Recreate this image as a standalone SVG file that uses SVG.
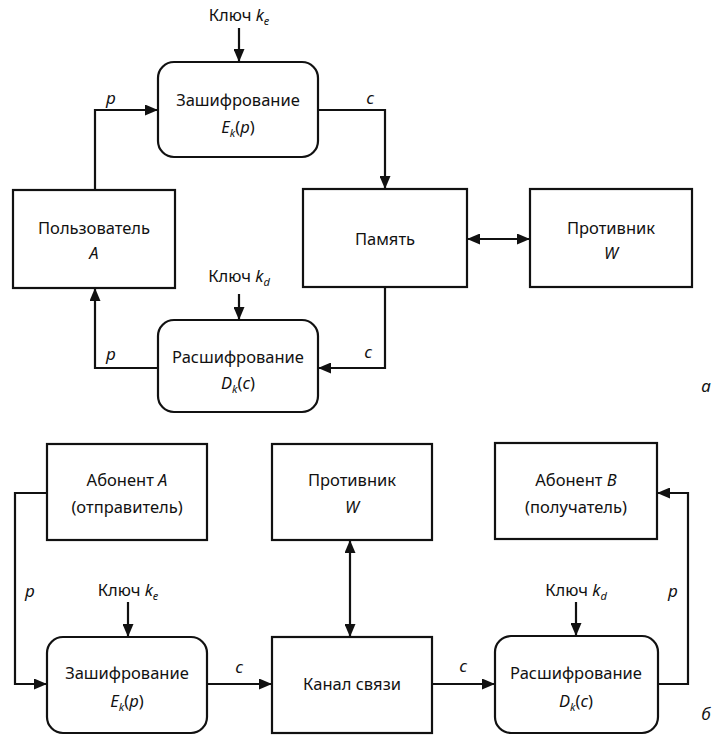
<svg xmlns="http://www.w3.org/2000/svg" width="721" height="740" viewBox="0 0 721 740">
  <style>
    .box { fill: #fff; stroke: #111; stroke-width: 2.2; }
    .wire { fill: none; stroke: #111; stroke-width: 2.2; }
    text { font-family: "Noto Sans", "Open Sans", sans-serif; font-size: 16.5px; fill: #111; text-anchor: middle; }
    .i { font-style: italic; }
    .sub { font-size: 11px; font-style: italic; }
    .lbl { font-style: italic; font-size: 17px; text-anchor: middle; }
    .tag { font-style: italic; font-size: 17px; }
  </style>
  <defs>
    <marker id="arrow" markerUnits="userSpaceOnUse" markerWidth="13" markerHeight="11" refX="13" refY="5.5" orient="auto-start-reverse">
      <path d="M0,0 L13,5.5 L0,11 z" fill="#111"/>
    </marker>
  </defs>

  <rect width="721" height="740" fill="#fff"/>

  <!-- upper scheme: storage -->
  <g id="user-a">
    <rect class="box" x="13" y="190" width="162" height="98"/>
    <text x="94" y="234">Пользователь</text>
    <text x="94" y="259" class="i">A</text>
  </g>
  <g id="encrypt-top">
    <rect class="box" x="158" y="62" width="160" height="95" rx="16"/>
    <text x="238" y="106">Зашифрование</text>
    <text x="238" y="133"><tspan class="i">E</tspan><tspan class="sub" dy="4">k</tspan><tspan dy="-4">(</tspan><tspan class="i">p</tspan>)</text>
  </g>
  <g id="key-e-top">
    <text x="239" y="21">Ключ <tspan class="i">k</tspan><tspan class="sub" dy="4">e</tspan></text>
  </g>
  <g id="memory">
    <rect class="box" x="303" y="189" width="164" height="98"/>
    <text x="385" y="245">Память</text>
  </g>
  <g id="adversary-top">
    <rect class="box" x="530" y="189" width="162" height="98"/>
    <text x="611" y="234">Противник</text>
    <text x="611" y="259" class="i">W</text>
  </g>
  <g id="key-d-top">
    <text x="239" y="282">Ключ <tspan class="i">k</tspan><tspan class="sub" dy="4">d</tspan></text>
  </g>
  <g id="decrypt-top">
    <rect class="box" x="158" y="320" width="160" height="92" rx="16"/>
    <text x="238" y="363">Расшифрование</text>
    <text x="238" y="389"><tspan class="i">D</tspan><tspan class="sub" dy="4">k</tspan><tspan dy="-4">(</tspan><tspan class="i">c</tspan>)</text>
  </g>

  <!-- lower scheme: channel -->
  <g id="subscriber-a">
    <rect class="box" x="47" y="444" width="160" height="96"/>
    <text x="127" y="486">Абонент <tspan class="i">A</tspan></text>
    <text x="127" y="513">(отправитель)</text>
  </g>
  <g id="adversary-bottom">
    <rect class="box" x="272" y="444" width="160" height="96"/>
    <text x="352" y="486">Противник</text>
    <text x="352" y="513" class="i">W</text>
  </g>
  <g id="subscriber-b">
    <rect class="box" x="495" y="443" width="162" height="96"/>
    <text x="576" y="486">Абонент <tspan class="i">B</tspan></text>
    <text x="576" y="513">(получатель)</text>
  </g>
  <g id="key-e-bottom">
    <text x="128" y="596">Ключ <tspan class="i">k</tspan><tspan class="sub" dy="4">e</tspan></text>
  </g>
  <g id="encrypt-bottom">
    <rect class="box" x="47" y="637" width="160" height="96" rx="16"/>
    <text x="127" y="679">Зашифрование</text>
    <text x="127" y="707"><tspan class="i">E</tspan><tspan class="sub" dy="4">k</tspan><tspan dy="-4">(</tspan><tspan class="i">p</tspan>)</text>
  </g>
  <g id="channel">
    <rect class="box" x="272" y="637" width="160" height="96"/>
    <text x="352" y="690">Канал связи</text>
  </g>
  <g id="key-d-bottom">
    <text x="576" y="596">Ключ <tspan class="i">k</tspan><tspan class="sub" dy="4">d</tspan></text>
  </g>
  <g id="decrypt-bottom">
    <rect class="box" x="495" y="636" width="163" height="97" rx="16"/>
    <text x="576" y="679">Расшифрование</text>
    <text x="576" y="707"><tspan class="i">D</tspan><tspan class="sub" dy="4">k</tspan><tspan dy="-4">(</tspan><tspan class="i">c</tspan>)</text>
  </g>

  <!-- connectors -->
  <g id="connectors">
    <path class="wire" d="M239,28 V62" marker-end="url(#arrow)"/>
    <path class="wire" d="M95,190 V110 H158" marker-end="url(#arrow)"/>
    <path class="wire" d="M318,110 H385 V189" marker-end="url(#arrow)"/>
    <path class="wire" d="M467,239 H530" marker-start="url(#arrow)" marker-end="url(#arrow)"/>
    <path class="wire" d="M385,287 V368 H318" marker-end="url(#arrow)"/>
    <path class="wire" d="M239,294 V320" marker-end="url(#arrow)"/>
    <path class="wire" d="M158,368 H95 V288" marker-end="url(#arrow)"/>

    <path class="wire" d="M47,493 H15 V684 H47" marker-end="url(#arrow)"/>
    <path class="wire" d="M128,602 V637" marker-end="url(#arrow)"/>
    <path class="wire" d="M207,684 H272" marker-end="url(#arrow)"/>
    <path class="wire" d="M350,540 V637" marker-start="url(#arrow)" marker-end="url(#arrow)"/>
    <path class="wire" d="M432,684 H495" marker-end="url(#arrow)"/>
    <path class="wire" d="M576,602 V636" marker-end="url(#arrow)"/>
    <path class="wire" d="M658,684 H688 V493 H657" marker-end="url(#arrow)"/>

    <text class="lbl" x="111" y="104">p</text>
    <text class="lbl" x="370" y="104">c</text>
    <text class="lbl" x="368" y="358">c</text>
    <text class="lbl" x="111" y="360">p</text>
    <text class="lbl" x="30" y="597">p</text>
    <text class="lbl" x="239" y="673">c</text>
    <text class="lbl" x="463" y="672">c</text>
    <text class="lbl" x="673" y="597">p</text>
  </g>

  <text class="tag" x="706" y="392">а</text>
  <text class="tag" x="706" y="720">б</text>
</svg>
